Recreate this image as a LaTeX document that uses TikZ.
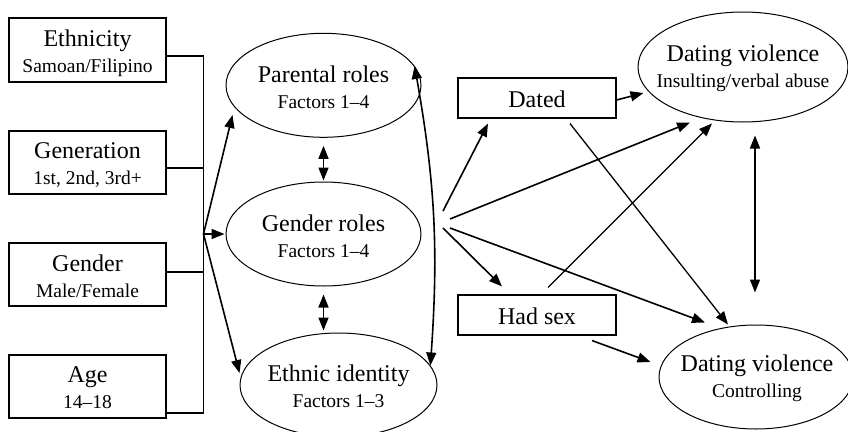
\documentclass[tikz,border=0pt]{standalone}
\usepackage{fontspec}
\setmainfont{Liberation Serif}
\usetikzlibrary{arrows.meta,shapes.geometric}
\newcommand{\mainf}{\fontsize{24}{24}\selectfont}
\begin{document}
\begin{tikzpicture}[x=1pt,y=-1pt,
 box/.style={draw, line width=1.1pt, inner sep=0pt},
 ell/.style={draw, ellipse, line width=1pt, inner sep=0pt},
 txt/.style={inner sep=0pt, align=center, font=\fontsize{19.5}{26}\selectfont},
 tip/.style={-{Triangle[length=13pt,width=10pt]}},
 arr/.style={line width=1.6pt, tip},
 thinarr/.style={line width=1.3pt, tip},
 dbl/.style={line width=1.6pt, {Triangle[length=13pt,width=10pt]}-{Triangle[length=13pt,width=10pt]}},
 brk/.style={line width=1.1pt}]
\useasboundingbox (0,0) rectangle (848,431);

% left boxes
\node[box, minimum width=157pt, minimum height=64pt] (eth) at (87.5,50) {};
\node[txt] (ethT) at ([yshift=-3pt]eth.center) {{\mainf Ethnicity}\\Samoan/Filipino};
\node[box, minimum width=157pt, minimum height=63pt] (gen) at (87.5,162.5) {};
\node[txt] (genT) at ([yshift=-3pt]gen.center) {{\mainf Generation}\\1st, 2nd, 3rd+};
\node[box, minimum width=157pt, minimum height=63pt] (gnd) at (87.5,274.5) {};
\node[txt] (gndT) at ([yshift=-2pt]gnd.center) {{\mainf Gender}\\Male/Female};
\node[box, minimum width=157pt, minimum height=63pt] (age) at (87.5,386.5) {};
\node[txt] (ageT) at ([yshift=-1pt]age.center) {{\mainf Age}\\14--18};

% middle ellipses
\node[ell, minimum width=195pt, minimum height=104pt] (par) at (323.5,85.3) {};
\node[txt] (parT) at ([yshift=-2pt]par.center) {{\mainf Parental roles}\\Factors 1--4};
\node[ell, minimum width=195pt, minimum height=104pt] (gro) at (323.5,234) {};
\node[txt] (groT) at ([yshift=-2pt]gro.center) {{\mainf Gender roles}\\Factors 1--4};
\node[ell, minimum width=197pt, minimum height=104pt] (eid) at (338.5,385) {};
\node[txt] (eidT) at ([yshift=-1pt]eid.center) {{\mainf Ethnic identity}\\Factors 1--3};

% right side
\node[box, minimum width=158pt, minimum height=40pt] (dated) at (537,98) {};
\node[txt] (datedT) at ([yshift=-1pt]dated.center) {\mainf Dated};
\node[box, minimum width=158pt, minimum height=40pt] (hadsex) at (537,315) {};
\node[txt] (hadsexT) at ([yshift=-1pt]hadsex.center) {\mainf Had sex};
\node[ell, minimum width=210pt, minimum height=110pt] (dvins) at (743,67) {};
\node[txt] (dvinsT) at ([shift={(0pt,-1pt)}]dvins.center) {{\mainf Dating violence}\\Insulting/verbal abuse};
\node[ell, minimum width=194pt, minimum height=104pt] (dvctrl) at (756,377) {};
\node[txt] (dvctrlT) at ([shift={(1pt,-1pt)}]dvctrl.center) {{\mainf Dating violence}\\Controlling};

% bracket
\coordinate (hub) at (203.5,234);
\draw[brk] ([yshift=-6pt]eth.east) -| (hub);
\draw[brk] ([yshift=-5.5pt]gen.east) -| (hub);
\draw[brk] ([yshift=2.5pt]gnd.east) -| (hub);
\draw[brk] ([yshift=-26.5pt]age.east) -| (hub);

\draw[arr] (hub) -- ([shift={(7pt,-29.7pt)}]par.west);
\draw[arr, shorten >=1pt] (hub) -- (gro.west);
\draw[arr] (hub) -- ([yshift=12pt]eid.west);

\draw[dbl, shorten <=8pt, shorten >=1pt] (par.south) -- (gro.north);
\draw[dbl, shorten <=8pt, shorten >=2pt] (gro.south) -- (gro.south |- eid.north);
\draw[dbl] (par.12) to[out=-80,in=86] (eid.12);

% fan to the right
\coordinate (f1) at (443,211);
\coordinate (f2) at (450,219);
\coordinate (f3) at (450,228);
\coordinate (f4) at (443,228);
\draw[arr] (f1) -- ([shift={(-49pt,-5pt)}]dated.south);
\draw[arr] (f2) -- ([xshift=-53pt]dvins.south);
\draw[arr] (f3) -- ([shift={(-51pt,2pt)}]dvctrl.north);
\draw[arr] (f4) -- ([shift={(-35pt,8pt)}]hadsex.north);

\draw[arr] ([yshift=-2pt]dated.east) -- ([shift={(6pt,-26pt)}]dvins.west);
\draw[thinarr] ([shift={(33pt,-5pt)}]dated.south) -- ([xshift=-28pt]dvctrl.north);
\draw[thinarr] ([shift={(11pt,7pt)}]hadsex.north) -- ([shift={(-31pt,-1pt)}]dvins.south);
\draw[arr] ([shift={(55pt,-5pt)}]hadsex.south) -- ([shift={(-8pt,15pt)}]dvctrl.west);
\draw[dbl] ([shift={(12pt,-13pt)}]dvins.south) -- ([shift={(-1pt,32pt)}]dvctrl.north);
\end{tikzpicture}
\end{document}
